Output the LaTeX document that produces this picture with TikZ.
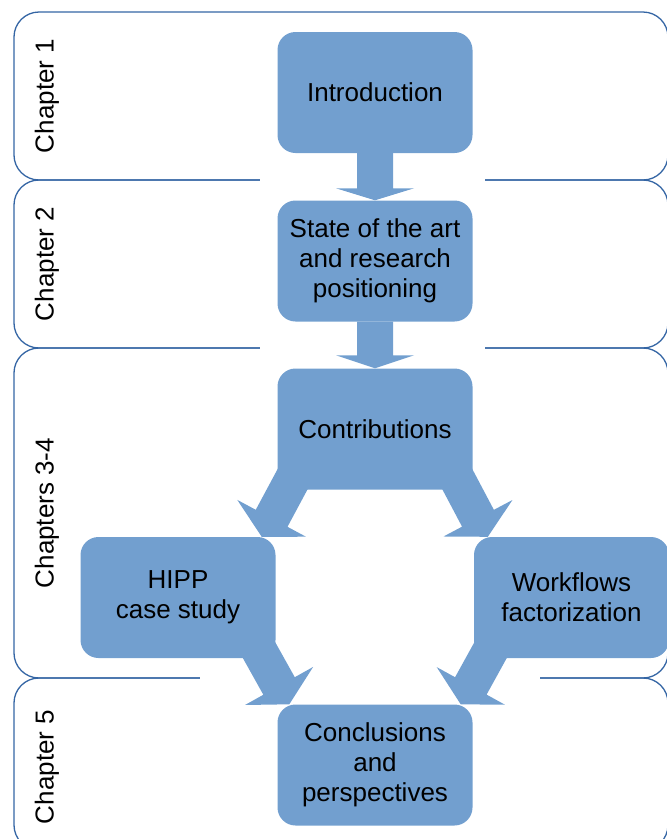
\documentclass[tikz,border=0pt]{standalone}
\usepackage{fontspec}
\setmainfont{Liberation Sans}
\usetikzlibrary{calc}
\definecolor{boxblue}{HTML}{729FCF}
\definecolor{framecol}{HTML}{3465A4}
\pgfdeclarelayer{framelayer}
\pgfdeclarelayer{arrowlayer}
\pgfsetlayers{framelayer,arrowlayer,main}
\tikzset{
  stagebox/.style={fill=boxblue, rounded corners=18pt, minimum width=195pt,
    minimum height=121pt, inner sep=0pt, align=center,
    font=\fontsize{26}{30}\selectfont, text=black},
  chapframe/.style={draw=framecol, line width=1.3pt, rounded corners=25pt},
  chaplabel/.style={rotate=90, inner sep=0pt, font=\fontsize{26}{30}\selectfont},
  gapfill/.style={fill=white},
  arrowfill/.style={fill=boxblue},
}
% #1 start, #2 tip, #3 head length
\newcommand\fatarrow[3]{%
  \coordinate (fa-h) at ($(#2)!#3!(#1)$);
  \fill[arrowfill] ($(#1)!18pt!90:(#2)$) -- ($(fa-h)!18pt!90:(#2)$)
    -- ($(fa-h)!39pt!90:(#2)$) -- (#2) -- ($(fa-h)!39pt!-90:(#2)$)
    -- ($(fa-h)!18pt!-90:(#2)$) -- ($(#1)!18pt!-90:(#2)$) -- cycle;
}
\begin{document}
\begin{tikzpicture}[x=1pt,y=-1pt]
\useasboundingbox (0,0) rectangle (667,839);

% stage boxes
\node[stagebox] (intro)   at (375,92.5)  {Introduction};
\node[stagebox] (state)   at (375,261)   {State of the art\\and research\\positioning};
\node[stagebox] (contrib) at (375,429)   {Contributions};
\node[stagebox] (hipp)    at (178,597.5) {HIPP\\case study};
\node[stagebox] (wf)      at (571.5,597.5) {Workflows\\factorization};
\node[stagebox] (concl)   at (375,765)   {Conclusions\\and\\perspectives};

% chapter labels
\node[chaplabel] (lab1) at (47,96)  {Chapter 1};
\node[chaplabel] (lab2) at (47,264) {Chapter 2};
\node[chaplabel] (lab3) at (47,513) {Chapters 3-4};
\node[chaplabel] (lab5) at (47,767) {Chapter 5};

% chapter frames
\begin{pgfonlayer}{framelayer}
  \draw[chapframe] (14,12)  rectangle (668,180);
  \draw[chapframe] (14,180) rectangle (668,348);
  \draw[chapframe] (14,348) rectangle (668,678);
  \draw[chapframe] (14,678) rectangle (668,850);
  \fill[gapfill] (260,176) rectangle (485,184);
  \fill[gapfill] (260,344) rectangle (485,352);
  \fill[gapfill] (200,674) rectangle (540,682);
\end{pgfonlayer}

% arrows
\coordinate (s1) at ($(contrib.south west)+(22,-23)$);
\coordinate (t1) at ($(hipp.north east)+(-14,0)$);
\coordinate (s2) at ($(contrib.south east)+(-22,-23)$);
\coordinate (t2) at ($(wf.north west)+(14,0)$);
\coordinate (s3) at ($(hipp.south east)+(-25,-23)$);
\coordinate (t3) at ($(concl.north west)+(12,0)$);
\coordinate (s4) at ($(wf.south west)+(25,-23)$);
\coordinate (t4) at ($(concl.north east)+(-12,0)$);
\begin{pgfonlayer}{arrowlayer}
  \fatarrow{intro.south}{state.north}{12pt}
  \fatarrow{state.south}{contrib.north}{13pt}
  \fatarrow{s1}{t1}{21pt}
  \fatarrow{s2}{t2}{21pt}
  \fatarrow{s3}{t3}{21pt}
  \fatarrow{s4}{t4}{21pt}
\end{pgfonlayer}
\end{tikzpicture}
\end{document}
